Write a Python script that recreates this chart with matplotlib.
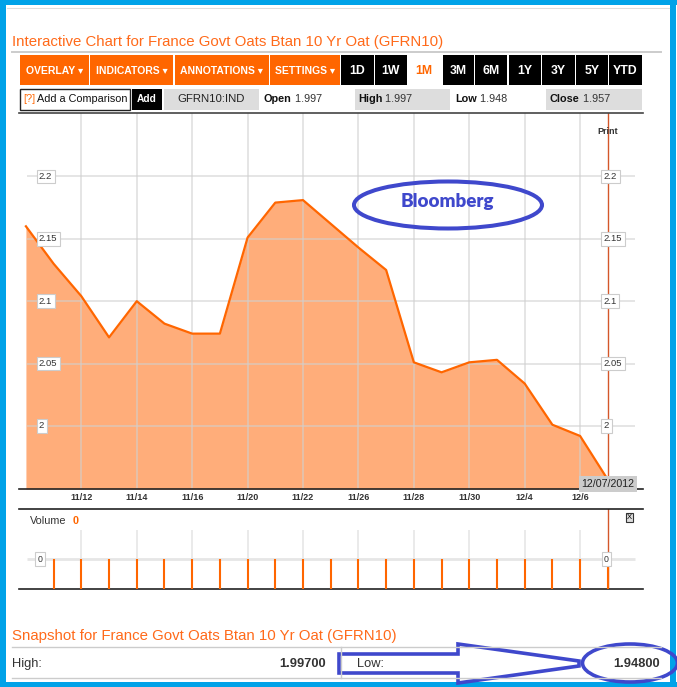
import matplotlib
matplotlib.use('Agg')
import matplotlib.pyplot as plt
import matplotlib.transforms as mtrans
from matplotlib.patches import Rectangle, Ellipse, Polygon

plt.rcParams['font.family'] = ['Liberation Sans', 'DejaVu Sans']

# daily closes
dates = ['11/8', '11/9', '11/12', '11/13', '11/14', '11/15', '11/16', '11/19',
         '11/20', '11/21', '11/22', '11/23', '11/26', '11/27', '11/28', '11/29',
         '11/30', '12/3', '12/4', '12/5', '12/6', '12/7']
price = [2.160, 2.130, 2.104, 2.071, 2.100, 2.082, 2.074, 2.074,
         2.151, 2.179, 2.181, 2.162, 2.143, 2.125, 2.051, 2.043,
         2.051, 2.053, 2.034, 2.001, 1.992, 1.957]
volume = [0] * 21          # volume bars for dates[1:]
price_ticks = [2.0, 2.05, 2.1, 2.15, 2.2]
price_labels = ['2', '2.05', '2.1', '2.15', '2.2']
last_date = '12/07/2012'

open_px, high_px, low_px, close_px = 1.997, 1.997, 1.948, 1.957
snap_high, snap_low = '1.99700', '1.94800'
ticker = 'GFRN10:IND'
title = 'Interactive Chart for France Govt Oats Btan 10 Yr Oat (GFRN10)'
snap_title = 'Snapshot for France Govt Oats Btan 10 Yr Oat (GFRN10)'
menus = ['OVERLAY', 'INDICATORS', 'ANNOTATIONS', 'SETTINGS']
periods = ['1D', '1W', '1M', '3M', '6M', '1Y', '3Y', '5Y', 'YTD']

ORANGE = '#FF6600'
FILL = '#FFAD7A'
BLUE = '#00A2E8'
INK = '#3F48CC'
RED = '#D4572A'
GRID = '#D0D0D0'
TXT = '#333333'

W, H = 677, 687
fig = plt.figure(figsize=(W / 100, H / 100), dpi=100)

def px_axes(x0, y0, x1, y1):
    return [x0 / W, 1 - y1 / H, (x1 - x0) / W, (y1 - y0) / H]

# ---------- price panel ----------
ax = fig.add_axes(px_axes(19, 113, 643, 489))
ax.set_xlim(-0.25, 22.27)
ax.set_ylim(1.9495, 2.2508)
xs = list(range(len(dates)))
last = len(dates) - 1
ax.fill_between(xs, price, 1.9495, color=FILL, lw=0, zorder=1)
ax.plot(xs, price, color=ORANGE, lw=1.6, zorder=3)
tick_idx = list(range(2, 21, 2))
ax.vlines(tick_idx, 1.9495, 2.2508, colors=GRID, lw=1.3, alpha=0.6, zorder=2)
ax.hlines(price_ticks, 0.05, 21.98, colors=GRID, lw=1.3, alpha=0.6, zorder=2)
ax.axvline(last, color=RED, lw=1, zorder=2)
ax.set_xticks(tick_idx)
ax.set_xticklabels([dates[i] for i in tick_idx], fontsize=6.5,
                   fontweight='bold', color=TXT)
ax.tick_params(axis='x', length=0, pad=3)
ax.set_yticks([])
for s in ['left', 'right']:
    ax.spines[s].set_visible(False)
ax.spines['bottom'].set_color('#222222')
ax.spines['bottom'].set_linewidth(1.2)
ax.spines['top'].set_color('#444444')
ax.spines['top'].set_linewidth(1.2)
box = dict(boxstyle='square,pad=0.25', fc='white', ec='#cccccc', lw=0.8)
for v, lab in zip(price_ticks, price_labels):
    ax.text(0.47, v, lab, ha='left', va='center', fontsize=6.8, color=TXT,
            bbox=box, zorder=5)
    ax.annotate(lab, xy=(last, v), xytext=(-4, 0), textcoords='offset pixels',
                ha='left', va='center', fontsize=6.8, color=TXT, bbox=box,
                zorder=5)
bt = mtrans.blended_transform_factory(ax.transData, ax.transAxes)
ax.text(last, 0.95, 'Print', transform=bt, ha='center', va='center',
        fontsize=6.5, fontweight='bold', color=TXT, zorder=5)
ax.text(last, 0.0, last_date, transform=bt, ha='center', va='bottom',
        fontsize=7.7, color='#222222', zorder=6,
        bbox=dict(boxstyle='square,pad=0.25', fc='#CCCCCC', ec='none'))

# ---------- volume panel ----------
av = fig.add_axes(px_axes(19, 509, 643, 589))
av.set_xlim(-0.25, 22.27)
av.set_ylim(-1, 5 / 3)
av.vlines(tick_idx, -1, 0.97, colors='#E6E6E6', lw=1.2, zorder=1)
av.hlines([0], 0.05, 21.98, colors='#E6E6E6', lw=2, zorder=1)
av.vlines(xs[1:], -1, volume, colors=ORANGE, lw=1.5, zorder=3)
av.axvline(last, color=RED, lw=1, zorder=2)
av.set_xticks([])
av.set_yticks([])
for s in ['left', 'right']:
    av.spines[s].set_visible(False)
for s in ['top', 'bottom']:
    av.spines[s].set_color('#222222')
    av.spines[s].set_linewidth(1.2)
av.text(0.018, 0.85, 'Volume', transform=av.transAxes, fontsize=7.8, color=TXT,
        va='center')
av.text(0.086, 0.85, str(volume[-1]), transform=av.transAxes, fontsize=7.8,
        color=ORANGE, fontweight='bold', va='center')
av.text(0.978, 0.89, 'X', transform=av.transAxes, fontsize=5.5, ha='center',
        va='center', bbox=dict(boxstyle='square,pad=0.15', fc='#DDDDDD',
                               ec='#333333', lw=0.8))
vbox = dict(boxstyle='square,pad=0.25', fc='white', ec='#cccccc', lw=0.8)
av.text(0.51, 0, '0', ha='center', va='center', fontsize=6.3, color=TXT,
        bbox=vbox, zorder=5)
av.annotate('0', xy=(last, 0), xytext=(-4, 0), textcoords='offset pixels',
            ha='left', va='center', fontsize=6.3, color=TXT, bbox=vbox,
            zorder=5)

# ---------- page chrome (pixel coordinates) ----------
ov = fig.add_axes([0, 0, 1, 1], zorder=10)
ov.set_xlim(0, W)
ov.set_ylim(H, 0)
ov.axis('off')
ov.patch.set_alpha(0)

def rect(x0, y0, x1, y1, **kw):
    ov.add_patch(Rectangle((x0, y0), x1 - x0, y1 - y0, **kw))

# blue frame
rect(0, 0, W, 5, fc=BLUE, ec='none')
rect(0, 0, 6, H, fc=BLUE, ec='none')
rect(670, 0, 676, H, fc=BLUE, ec='none')
rect(0, 682, W, 687, fc=BLUE, ec='none')
ov.plot([7, 669], [8, 8], color='#DDDDDD', lw=0.8)

ov.text(12, 42, title, fontsize=10.8, color='#FF6A1A', va='center')
ov.plot([12, 661], [52, 52], color='#CCCCCC', lw=1.4)

menu_edges = [(20, 88.5), (90, 173), (174.5, 268.5), (270, 340)]
for lab, (a, b) in zip(menus, menu_edges):
    rect(a, 55, b, 85, fc=ORANGE, ec='none')
    ov.text((a + b) / 2, 70.5, lab + ' \u25be', ha='center', va='center',
            fontsize=7.5, fontweight='bold', color='white')
period_edges = [(341, 373.5), (375, 407), (407, 441), (442.5, 473.5),
                (475, 507), (508.5, 541), (542, 574.5), (576, 608), (609, 642)]
for lab, (a, b) in zip(periods, period_edges):
    active = lab == '1M'
    if not active:
        rect(a, 55, b, 85, fc='black', ec='none')
    ov.text((a + b) / 2, 70.5, lab, ha='center', va='center', fontsize=8.8,
            fontweight='bold', color=ORANGE if active else 'white')

# comparison / quote row
rect(20, 88.5, 130, 110, fc='white', ec='#222222', lw=1)
ov.text(23, 99.5, '[?]', fontsize=7.8, color=ORANGE, va='center')
ov.text(37, 99.5, 'Add a Comparison', fontsize=7.8, color='#111111', va='center')
rect(132, 88.5, 162, 110, fc='black', ec='none')
ov.text(147, 99.5, 'Add', fontsize=7.3, color='white', fontweight='bold',
        ha='center', va='center')
rect(164, 88.5, 259, 110, fc='#DDDDDD', ec='none')
ov.text(211.5, 99.5, ticker, fontsize=8.2, color='#222222', ha='center',
        va='center')
rect(355, 88.5, 450, 110, fc='#DDDDDD', ec='none')
rect(546, 88.5, 642, 110, fc='#DDDDDD', ec='none')
for x0, name, val in [(264, 'Open', open_px), (358, 'High', high_px),
                      (455.5, 'Low', low_px), (550, 'Close', close_px)]:
    t = ov.text(x0, 99.5, name, fontsize=7.8, color='#111111',
                fontweight='bold', va='center')
    ov.annotate(' %.3f' % val, xy=(1, 0.5), xycoords=t, va='center',
                fontsize=7.8, color=TXT)

# snapshot block
ov.text(12, 636, snap_title, fontsize=10.8, color='#FF6A1A', va='center')
ov.plot([12, 661], [647, 647], color='#CCCCCC', lw=1)
ov.plot([12, 661], [678, 678], color='#CCCCCC', lw=1)
ov.plot([341, 341], [647, 678], color='#CCCCCC', lw=1)
ov.text(12, 664, 'High:', fontsize=9.3, color=TXT, va='center')
ov.text(326, 664, snap_high, fontsize=9.3, color=TXT, va='center', ha='right',
        fontweight='bold')
ov.text(357, 664, 'Low:', fontsize=9.3, color=TXT, va='center')
ov.text(660, 664, snap_low, fontsize=9.3, color=TXT, va='center', ha='right',
        fontweight='bold')

# hand-drawn blue markup
arrow = [(339, 654), (458, 654), (458, 644), (579, 661), (579, 666),
         (458, 683), (458, 673), (339, 673)]
ov.add_patch(Polygon(arrow, closed=True, fill=False, ec=INK, lw=2.6))
ov.add_patch(Ellipse((630, 663), 95, 38, fill=False, ec=INK, lw=2.6))
ov.add_patch(Ellipse((448, 205), 188, 47, fill=False, ec=INK, lw=2.9))
ov.text(447, 202, 'Bloomberg', fontsize=13.5, fontweight='heavy', color=INK,
        ha='center', va='center', family=['Lato', 'DejaVu Sans'])

fig.savefig('out.png', dpi=100)
